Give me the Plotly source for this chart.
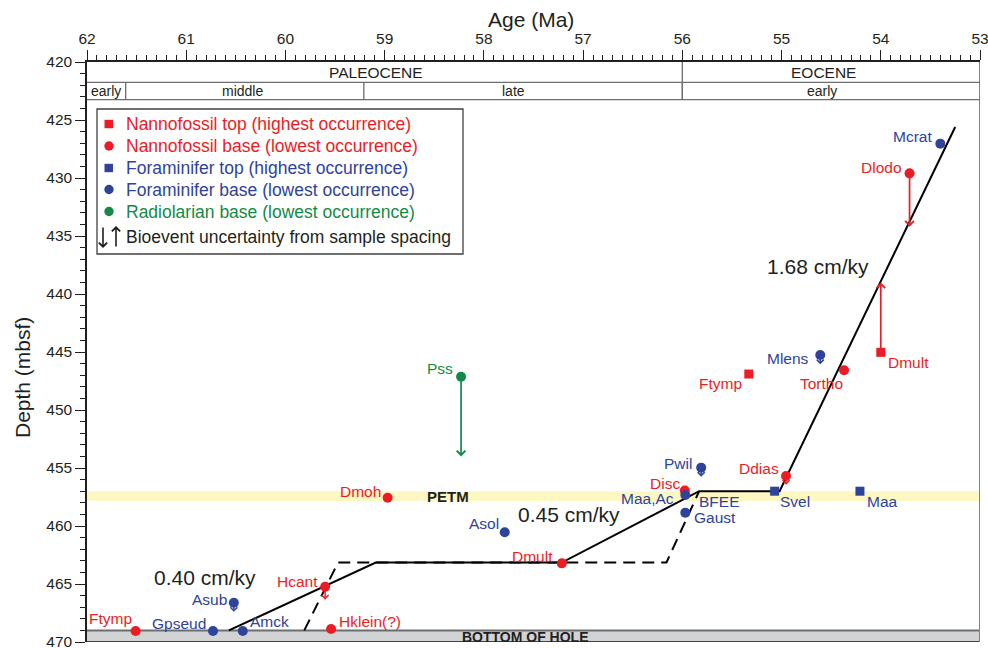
import plotly.graph_objects as go

# ---------------- DATA ----------------
# Nannofossil tops (highest occurrence)
nt_names = ["Ftymp", "Dmult"]
nt_age = [55.33, 54.00]
nt_depth = [446.90, 445.03]

# Nannofossil bases (lowest occurrence)
nb_names = ["Dlodo", "Tortho", "Ddias", "Disc", "Dmult", "Dmoh", "Hcant", "Hklein(?)", "Ftymp"]
nb_age = [53.71, 54.37, 54.955, 55.975, 57.215, 58.97, 59.60, 59.54, 61.51]
nb_depth = [429.60, 446.58, 455.69, 456.95, 463.22, 457.56, 465.23, 468.88, 469.05]

# Foraminifer tops (highest occurrence)
ft_names = ["Svel", "Maa"]
ft_age = [55.07, 54.21]
ft_depth = [457.00, 457.00]

# Foraminifer bases (lowest occurrence)
fb_names = ["Mcrat", "Mlens", "Pwil", "Maa,Ac", "Gaust", "Asol", "Asub", "Amck", "Gpseud"]
fb_age = [53.40, 54.61, 55.81, 55.97, 55.97, 57.79, 60.52, 60.43, 60.73]
fb_depth = [427.04, 445.26, 454.97, 457.33, 458.85, 460.54, 466.61, 469.05, 469.05]

# Radiolarian base (lowest occurrence)
rb_names = ["Pss"]
rb_age = [58.23]
rb_depth = [447.13]

# Bioevent uncertainty from sample spacing (age, from depth, to depth)
unc_names = ["Pss", "Dlodo", "Dmult", "Pwil", "Mlens", "Ddias", "Asub", "Hcant"]
unc_age = [58.23, 53.71, 54.00, 55.81, 54.61, 54.955, 60.52, 59.60]
unc_from = [447.13, 429.60, 445.03, 454.97, 445.26, 455.69, 466.61, 465.23]
unc_to = [454.00, 434.20, 439.00, 455.75, 446.05, 456.45, 467.40, 466.35]
unc_group = ["rad", "nanno", "nanno", "foram", "foram", "nanno", "foram", "nanno"]

# Age model (solid) and alternative model (dashed)
model_age = [60.57, 59.09, 57.215, 55.83, 55.02, 53.25]
model_depth = [469.00, 463.15, 463.15, 457.00, 457.00, 425.60]
alt_age = [59.81, 59.47, 57.215, 56.16, 55.83]
alt_depth = [469.00, 463.15, 463.15, 463.15, 457.00]

# Sedimentation rates
rate_text = ["0.40 cm/ky", "0.45 cm/ky", "1.68 cm/ky"]
rate_age = [60.81, 57.14, 54.63]
rate_depth = [464.48, 458.97, 437.63]

# Chronostratigraphy
epoch_names = ["PALEOCENE", "EOCENE"]
epoch_bounds = [62.0, 56.0, 53.0]
epoch_label_age = [59.09, 54.58]
sub_names = ["early", "middle", "late", "early"]
sub_bounds = [62.0, 61.61, 59.21, 56.0, 53.0]
sub_label_age = [61.81, 60.43, 57.70, 54.59]

# PETM interval and bottom of hole
petm_top, petm_bot = 457.00, 457.85
hole_bottom = 469.00
depth_max = 470.0

# ---------------- STYLE ----------------
RED = "#ed1c24"
BLUE = "#2e4399"
GREEN = "#138a45"
DARK = "#231f20"
FONT = "Liberation Sans, Arial, Helvetica, sans-serif"
LBL = 15.5

# label placement: (anchor, xshift px, yshift px)
nt_pos = [("right", -5, -9), ("left", 5, -10)]
nb_pos = [("right", -6, 6), ("right", 1, -13), ("right", -5, 8), ("right", -3, 7),
          ("right", -7, 7), ("right", -5, 6), ("right", -5, 5), ("left", 6, 7.5),
          ("right", -2, 12.5)]
ft_pos = [("left", 3, -10), ("left", 5, -10)]
fb_pos = [("right", -6, 7), ("right", -9, -3), ("right", -7, 4), ("right", -9, -3.5),
          ("left", 7, -5), ("right", -4, 8.5), ("right", -5, 3.5), ("left", 5, 9),
          ("right", -5, 7)]
rb_pos = [("right", -6, 8)]

fig = go.Figure()

# age models
fig.add_trace(go.Scatter(x=alt_age, y=alt_depth, mode="lines",
                         line=dict(color="black", width=2, dash="12px,7px"),
                         showlegend=False, hoverinfo="skip"))
fig.add_trace(go.Scatter(x=model_age, y=model_depth, mode="lines",
                         line=dict(color="black", width=2),
                         showlegend=False, hoverinfo="skip"))

annotations = []

# uncertainty arrows
col = {"rad": GREEN, "nanno": RED, "foram": BLUE}
for a, f, t, g in zip(unc_age, unc_from, unc_to, unc_group):
    long = abs(t - f) > 2
    annotations.append(dict(x=a, y=t, ax=a, ay=f, xref="x", yref="y", axref="x", ayref="y",
                            showarrow=True, text="", arrowhead=4,
                            arrowsize=1.0 if long else 0.9,
                            arrowwidth=1.7 if long else 1.5,
                            arrowcolor=col[g], standoff=0, startstandoff=0))

def add_points(names, ages, depths, symbol, color, pos):
    fig.add_trace(go.Scatter(x=ages, y=depths, mode="markers",
                             marker=dict(symbol=symbol, color=color,
                                         size=9 if symbol == "square" else 10,
                                         line=dict(width=0)),
                             text=names, showlegend=False, hoverinfo="text"))
    for n, a, d, (anc, xs, ys) in zip(names, ages, depths, pos):
        annotations.append(dict(x=a, y=d, xref="x", yref="y", text=n, showarrow=False,
                                xanchor=anc, yanchor="middle", xshift=xs, yshift=ys,
                                font=dict(family=FONT, size=LBL, color=color)))

add_points(nb_names, nb_age, nb_depth, "circle", RED, nb_pos)
add_points(nt_names, nt_age, nt_depth, "square", RED, nt_pos)
add_points(ft_names, ft_age, ft_depth, "square", BLUE, ft_pos)
add_points(fb_names, fb_age, fb_depth, "circle", BLUE, fb_pos)
add_points(rb_names, rb_age, rb_depth, "circle", GREEN, rb_pos)

# BFEE label next to Maa,Ac
i_ma = fb_names.index("Maa,Ac")
annotations.append(dict(x=fb_age[i_ma], y=fb_depth[i_ma], xref="x", yref="y", text="BFEE",
                        showarrow=False, xanchor="left", yanchor="middle", xshift=12, yshift=-6,
                        font=dict(family=FONT, size=LBL, color=BLUE)))

# rates
for t, a, d in zip(rate_text, rate_age, rate_depth):
    annotations.append(dict(x=a, y=d, xref="x", yref="y", text=t, showarrow=False,
                            xanchor="center", yanchor="middle",
                            font=dict(family=FONT, size=21, color=DARK)))

shapes = []
# PETM band
shapes.append(dict(type="rect", xref="x", yref="y", x0=62, x1=53, y0=petm_top, y1=petm_bot,
                   fillcolor="#fdf7c2", line=dict(width=0), layer="below"))
annotations.append(dict(x=58.36, y=(petm_top + petm_bot) / 2, xref="x", yref="y", text="<b>PETM</b>",
                        showarrow=False, xanchor="center", yanchor="middle",
                        font=dict(family=FONT, size=15, color=DARK)))
# bottom of hole
shapes.append(dict(type="rect", xref="x", yref="y", x0=62, x1=53, y0=hole_bottom, y1=depth_max,
                   fillcolor="#d1d3d4", line=dict(width=0), layer="below"))
shapes.append(dict(type="line", xref="x", yref="y", x0=62, x1=53, y0=hole_bottom, y1=hole_bottom,
                   line=dict(color="#6d6e71", width=2), layer="below"))
shapes.append(dict(type="line", xref="x", yref="y", x0=62, x1=53, y0=depth_max, y1=depth_max,
                   line=dict(color="#414042", width=2)))
annotations.append(dict(x=57.58, y=469.55, xref="x", yref="y", text="<b>BOTTOM OF HOLE</b>",
                        showarrow=False, xanchor="center", yanchor="middle",
                        font=dict(family=FONT, size=14, color=DARK)))
# right border
shapes.append(dict(type="line", xref="x", yref="y", x0=53, x1=53, y0=420, y1=depth_max,
                   line=dict(color="#808285", width=2)))

# chronostratigraphy bands
band1, band2 = 421.75, 423.25
GRAYL = "#6d6e71"
for yv in (band1, band2):
    shapes.append(dict(type="line", xref="x", yref="y", x0=62, x1=53, y0=yv, y1=yv,
                       line=dict(color=GRAYL, width=1.3)))
for b in epoch_bounds[1:-1]:
    shapes.append(dict(type="line", xref="x", yref="y", x0=b, x1=b, y0=420, y1=band2,
                       line=dict(color=GRAYL, width=1.3)))
for b in sub_bounds[1:-1]:
    shapes.append(dict(type="line", xref="x", yref="y", x0=b, x1=b, y0=band1, y1=band2,
                       line=dict(color=GRAYL, width=1.3)))
for n, a in zip(epoch_names, epoch_label_age):
    annotations.append(dict(x=a, y=(420 + band1) / 2, xref="x", yref="y", text=n, showarrow=False,
                            xanchor="center", yanchor="middle",
                            font=dict(family=FONT, size=15.5, color=DARK)))
for n, a in zip(sub_names, sub_label_age):
    annotations.append(dict(x=a, y=(band1 + band2) / 2, xref="x", yref="y", text=n, showarrow=False,
                            xanchor="center", yanchor="middle",
                            font=dict(family=FONT, size=14, color=DARK)))

# ---------------- manual legend ----------------
L, T, W, H = 87, 62, 893, 580
def px(v):
    return (v - L) / W
def py(v):
    return (T + H - v) / H

shapes.append(dict(type="rect", xref="paper", yref="paper", x0=px(97), x1=px(463), y0=py(109), y1=py(254),
                   line=dict(color="#414042", width=1.3), fillcolor="white"))
leg_text = ["Nannofossil top (highest occurrence)", "Nannofossil base (lowest occurrence)",
            "Foraminifer top (highest occurrence)", "Foraminifer base (lowest occurrence)",
            "Radiolarian base (lowest occurrence)"]
leg_col = [RED, RED, BLUE, BLUE, GREEN]
leg_sym = ["square", "circle", "square", "circle", "circle"]
leg_y = [124, 146, 168, 189.5, 211.5]
for t, c, s, yv in zip(leg_text, leg_col, leg_sym, leg_y):
    if s == "square":
        shapes.append(dict(type="rect", xref="paper", yref="paper", x0=px(104.5), x1=px(113),
                           y0=py(yv + 4.2), y1=py(yv - 4.2), fillcolor=c, line=dict(width=0)))
    else:
        shapes.append(dict(type="circle", xref="paper", yref="paper", x0=px(104.3), x1=px(113.7),
                           y0=py(yv + 4.7), y1=py(yv - 4.7), fillcolor=c, line=dict(width=0)))
    annotations.append(dict(x=px(124), y=py(yv), xref="paper", yref="paper", text=t, showarrow=False,
                            xanchor="left", yanchor="middle",
                            font=dict(family=FONT, size=17.5, color=c)))
# arrows in legend
annotations.append(dict(x=px(103), y=py(248), ax=0, ay=-22, xref="paper", yref="paper",
                        showarrow=True, text="", arrowhead=4,
                        arrowsize=1, arrowwidth=1.6, arrowcolor=DARK, standoff=0))
annotations.append(dict(x=px(116), y=py(226), ax=0, ay=22, xref="paper", yref="paper",
                        showarrow=True, text="", arrowhead=4,
                        arrowsize=1, arrowwidth=1.6, arrowcolor=DARK, standoff=0))
annotations.append(dict(x=px(124), y=py(237), xref="paper", yref="paper",
                        text="Bioevent uncertainty from sample spacing", showarrow=False,
                        xanchor="left", yanchor="middle", font=dict(family=FONT, size=17.5, color=DARK)))

# axis titles
annotations.append(dict(x=px(531), y=py(20), xref="paper", yref="paper", text="Age (Ma)",
                        showarrow=False, xanchor="center", yanchor="middle",
                        font=dict(family=FONT, size=21, color=DARK)))
annotations.append(dict(x=px(22), y=py(378), xref="paper", yref="paper", text="Depth (mbsf)",
                        showarrow=False, textangle=-90, xanchor="center", yanchor="middle",
                        font=dict(family=FONT, size=21, color=DARK)))

fig.update_layout(
    width=988, height=648,
    margin=dict(l=L, r=988 - L - W, t=T, b=648 - T - H, autoexpand=False),
    paper_bgcolor="white", plot_bgcolor="white",
    font=dict(family=FONT, color=DARK),
    showlegend=False,
    shapes=shapes, annotations=annotations,
    xaxis=dict(range=[62, 53], side="top", showgrid=False, zeroline=False, automargin=False,
               showline=True, linecolor=DARK, linewidth=1.5,
               ticks="outside", ticklen=10, tickwidth=1.2, tickcolor=DARK,
               tick0=53, dtick=1, tickfont=dict(size=15.5, color=DARK, family=FONT),
               ticklabeloverflow="allow",
               minor=dict(ticks="outside", ticklen=5, tickwidth=1, tickcolor=DARK, dtick=0.1, showgrid=False)),
    xaxis2=dict(range=[62, 53], overlaying="x", side="top", anchor="y", showgrid=False, zeroline=False,
                automargin=False, showline=False, ticks="outside", ticklen=8, tickwidth=1, tickcolor=DARK,
                tick0=61.5, dtick=1, showticklabels=False),
    yaxis=dict(range=[470, 420], showgrid=False, zeroline=False, automargin=False,
               showline=True, linecolor=DARK, linewidth=1.5,
               ticks="outside", ticklen=10, tickwidth=1.2, tickcolor=DARK,
               tick0=420, dtick=5, tickfont=dict(size=15.5, color=DARK, family=FONT),
               ticklabeloverflow="allow",
               minor=dict(ticks="outside", ticklen=5, tickwidth=1, tickcolor=DARK, dtick=1, showgrid=False)),
)

fig.write_html("out.html")
